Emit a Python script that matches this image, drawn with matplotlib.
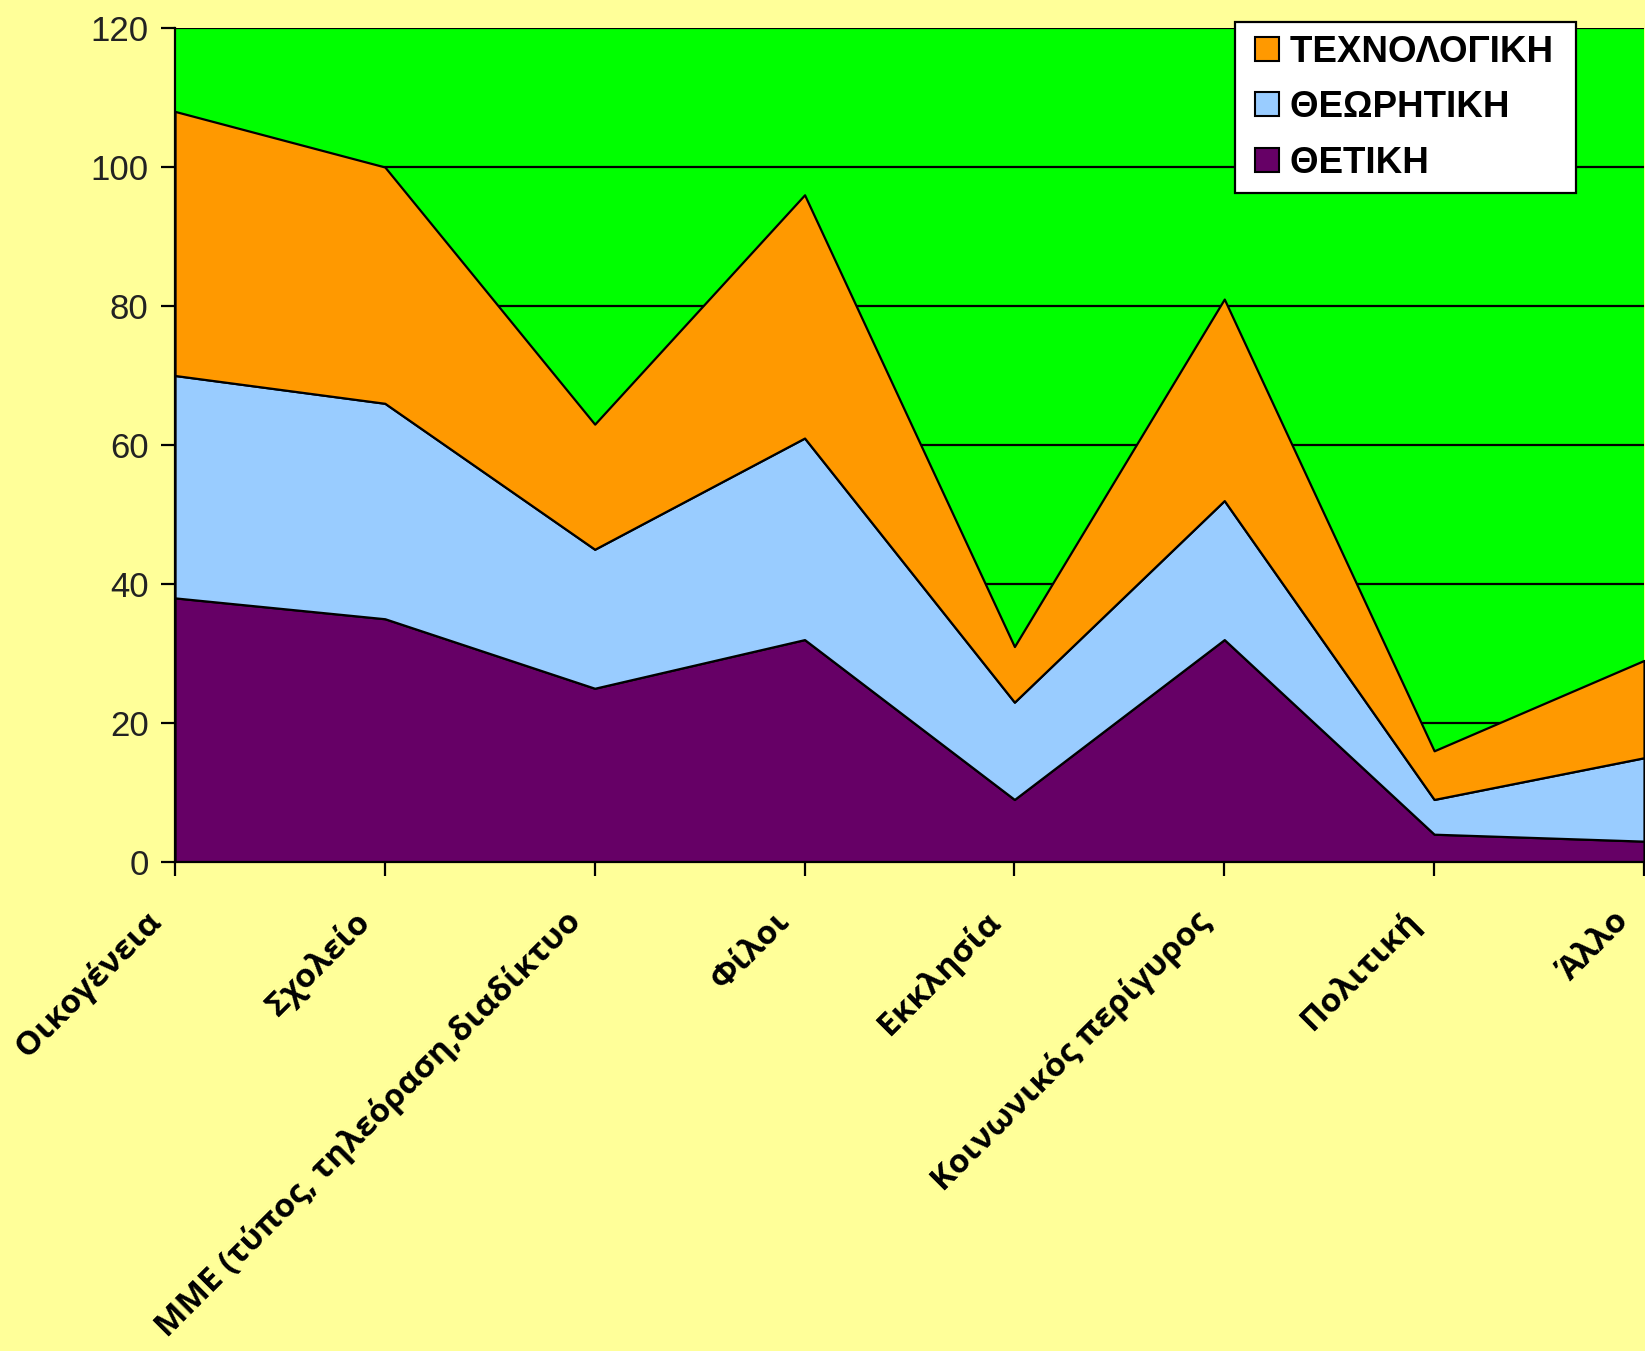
import matplotlib
matplotlib.use("Agg")
import matplotlib.pyplot as plt
import numpy as np
from matplotlib.lines import Line2D
from matplotlib.transforms import ScaledTranslation

categories = ["Οικογένεια", "Σχολείο", "ΜΜΕ (τύπος, τηλεόραση,διαδίκτυο",
              "Φίλοι", "Εκκλησία", "Κοινωνικός περίγυρος", "Πολιτική", "Άλλο"]
thetiki = [38, 35, 25, 32, 9, 32, 4, 3]
theoritiki = [32, 31, 20, 29, 14, 20, 5, 12]
technologiki = [38, 34, 18, 35, 8, 29, 7, 14]
series_names = ["ΘΕΤΙΚΗ", "ΘΕΩΡΗΤΙΚΗ", "ΤΕΧΝΟΛΟΓΙΚΗ"]
colors = ["#660066", "#99CCFF", "#FF9900"]
yticks = [0, 20, 40, 60, 80, 100, 120]

W, H, DPI = 1645, 1351, 100
fig = plt.figure(figsize=(W / DPI, H / DPI), dpi=DPI, facecolor="#FFFF99")
ax = fig.add_axes([175 / W, 1 - 862 / H, (1644 - 175) / W, (862 - 28) / H])
ax.set_facecolor("#00FF00")

x = np.arange(len(categories))
ax.stackplot(x, thetiki, theoritiki, technologiki, colors=colors,
             edgecolor="black", linewidth=1.6, zorder=2)

ax.set_xlim(0, len(categories) - 1)
ax.set_ylim(0, 120)
ax.set_yticks(yticks)
ax.yaxis.grid(True, color="black", linewidth=1.6, zorder=1)
ax.set_axisbelow(True)

for s in ["top", "right"]:
    ax.spines[s].set_visible(False)
for s in ["left", "bottom"]:
    ax.spines[s].set_color("black")
    ax.spines[s].set_linewidth(1.6)
    ax.spines[s].set_zorder(3)

ax.tick_params(axis="y", length=10, width=1.6, pad=9, labelsize=25,
               labelcolor="#222222")
for lab in ax.get_yticklabels():
    lab.set_fontfamily("Liberation Sans")

ax.set_xticks(x)
ax.set_xticklabels(categories, rotation=45, ha="right", va="top",
                   rotation_mode="anchor", fontsize=24, fontweight="bold",
                   fontfamily="Open Sans")
ax.tick_params(axis="x", length=10, width=1.6, pad=21)
shift = ScaledTranslation(-31 / DPI, 0, fig.dpi_scale_trans)
for lab in ax.get_xticklabels():
    lab.set_transform(lab.get_transform() + shift)

handles = [Line2D([], [], linestyle="none", marker="s", markersize=17,
                  markerfacecolor=c, markeredgecolor="black",
                  markeredgewidth=1.5) for c in colors][::-1]
labels = [n + " " for n in series_names[::-1]]
leg = ax.legend(handles, labels, loc="upper right",
                bbox_to_anchor=((1576 - 175) / (1644 - 175), 1.007),
                prop={"family": "Liberation Sans", "weight": "bold", "size": 26.5},
                frameon=True, fancybox=False, edgecolor="black",
                framealpha=1, handlelength=1.04, handleheight=0.7,
                handletextpad=0.1, borderpad=0.35, labelspacing=0.55,
                borderaxespad=0)
leg.get_frame().set_linewidth(1.6)
leg.set_zorder(5)

fig.savefig("out.png", dpi=DPI, facecolor=fig.get_facecolor())
